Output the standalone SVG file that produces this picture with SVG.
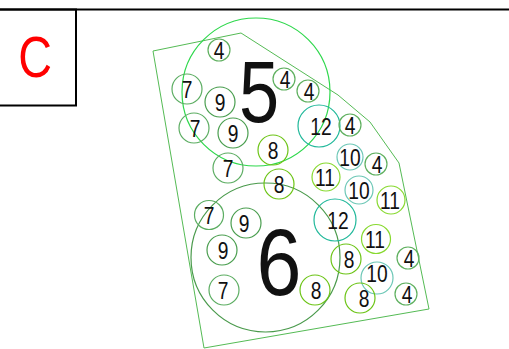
<svg xmlns="http://www.w3.org/2000/svg" width="509" height="349" viewBox="0 0 509 349">
<style>
text{font-family:"Liberation Sans",Arial,sans-serif;fill:#111;text-anchor:middle}
.s{font-size:24px}
.c{fill:none;stroke-width:1.2}
.c4{stroke:#5fb05f}.c7{stroke:#5cad62}.c9{stroke:#4a9e4f}.c8{stroke:#6cc416}
.c11{stroke:#88d930}.c10{stroke:#6cc7b6}.c12{stroke:#20b89a}
.b5{fill:none;stroke:#2ed84c;stroke-width:1.2}.b6{fill:none;stroke:#4a9a4c;stroke-width:1.2}
</style>
<rect x="0" y="0" width="509" height="349" fill="#fff"/>
<g id="frame">
<line x1="0" y1="9.5" x2="509" y2="9.5" stroke="#000" stroke-width="2"/>
<rect x="-2" y="9.5" width="78" height="96" fill="none" stroke="#000" stroke-width="2"/>
<text x="0" y="0" transform="translate(35,77) scale(0.82,1)" style="font-size:57px;fill:#ff0000">C</text>
</g>
<g id="boundary">
<polygon points="153,51 241,33 338,95 370,122 399,163 429,309 204,348" fill="none" stroke="#55bb55" stroke-width="1"/>
</g>
<g id="connectors"></g>
<g id="zone5"><circle class="b5" cx="256" cy="92" r="74"/><text transform="translate(259,122) scale(0.82,1)" style="font-size:88px">5</text></g>
<g id="zone6"><circle class="b6" cx="265.5" cy="257.5" r="74.5"/><text transform="translate(279,295) scale(0.86,1)" style="font-size:94px">6</text></g>
<g id="n1"><circle class="c c4" cx="219" cy="50" r="11"/><text class="s" transform="translate(219,58.5) scale(0.8,1)">4</text></g>
<g id="n2"><circle class="c c7" cx="187" cy="89" r="15"/><text class="s" transform="translate(187,97.5) scale(0.8,1)">7</text></g>
<g id="n3"><circle class="c c9" cx="220" cy="102" r="15"/><text class="s" transform="translate(220,110.5) scale(0.8,1)">9</text></g>
<g id="n4"><circle class="c c7" cx="194" cy="128" r="15"/><text class="s" transform="translate(195,136.5) scale(0.8,1)">7</text></g>
<g id="n5"><circle class="c c9" cx="233" cy="133" r="15"/><text class="s" transform="translate(233,141.5) scale(0.8,1)">9</text></g>
<g id="n6"><circle class="c c4" cx="284" cy="79" r="11"/><text class="s" transform="translate(285,87.5) scale(0.8,1)">4</text></g>
<g id="n7"><circle class="c c4" cx="308" cy="91" r="11"/><text class="s" transform="translate(309,99.5) scale(0.8,1)">4</text></g>
<g id="n8"><circle class="c c12" cx="319" cy="126" r="21"/><text class="s" transform="translate(321,134.5) scale(0.8,1)">12</text></g>
<g id="n9"><circle class="c c8" cx="273" cy="150" r="15"/><text class="s" transform="translate(273,158.5) scale(0.8,1)">8</text></g>
<g id="n10"><circle class="c c7" cx="228" cy="168" r="15"/><text class="s" transform="translate(228,176.5) scale(0.8,1)">7</text></g>
<g id="n11"><circle class="c c4" cx="350" cy="125" r="11"/><text class="s" transform="translate(350,133.5) scale(0.8,1)">4</text></g>
<g id="n12"><circle class="c c10" cx="350" cy="157" r="13"/><text class="s" transform="translate(350,165.5) scale(0.8,1)">10</text></g>
<g id="n13"><circle class="c c4" cx="376" cy="164" r="11"/><text class="s" transform="translate(377,172.5) scale(0.8,1)">4</text></g>
<g id="n14"><circle class="c c11" cx="326" cy="177" r="14"/><text class="s" transform="translate(325,185.5) scale(0.8,1)">11</text></g>
<g id="n15"><circle class="c c8" cx="279" cy="184" r="15"/><text class="s" transform="translate(279,192.5) scale(0.8,1)">8</text></g>
<g id="n16"><circle class="c c10" cx="359" cy="190" r="14"/><text class="s" transform="translate(359,198.5) scale(0.8,1)">10</text></g>
<g id="n17"><circle class="c c11" cx="391" cy="200" r="14"/><text class="s" transform="translate(390,208.5) scale(0.8,1)">11</text></g>
<g id="n18"><circle class="c c12" cx="335" cy="220" r="21"/><text class="s" transform="translate(338,228.5) scale(0.8,1)">12</text></g>
<g id="n19"><circle class="c c7" cx="209" cy="215" r="14.5"/><text class="s" transform="translate(209,223.5) scale(0.8,1)">7</text></g>
<g id="n20"><circle class="c c9" cx="246" cy="223" r="15"/><text class="s" transform="translate(244,231.5) scale(0.8,1)">9</text></g>
<g id="n21"><circle class="c c9" cx="222" cy="250" r="15"/><text class="s" transform="translate(223,258.5) scale(0.8,1)">9</text></g>
<g id="n22"><circle class="c c11" cx="376" cy="239" r="14.5"/><text class="s" transform="translate(375,247.5) scale(0.8,1)">11</text></g>
<g id="n23"><circle class="c c4" cx="408" cy="258" r="11"/><text class="s" transform="translate(409,266.5) scale(0.8,1)">4</text></g>
<g id="n24"><circle class="c c8" cx="346" cy="259" r="15"/><text class="s" transform="translate(349,267.5) scale(0.8,1)">8</text></g>
<g id="n25"><circle class="c c10" cx="377" cy="278" r="16"/><text class="s" transform="translate(377,282) scale(0.8,1)">10</text></g>
<g id="n26"><circle class="c c8" cx="315" cy="290" r="15"/><text class="s" transform="translate(316,298.5) scale(0.8,1)">8</text></g>
<g id="n27"><circle class="c c7" cx="224" cy="290" r="15"/><text class="s" transform="translate(223,298.5) scale(0.8,1)">7</text></g>
<g id="n28"><circle class="c c8" cx="360" cy="298" r="15"/><text class="s" transform="translate(364,306.5) scale(0.8,1)">8</text></g>
<g id="n29"><circle class="c c4" cx="406" cy="294" r="11"/><text class="s" transform="translate(407,302.5) scale(0.8,1)">4</text></g>
</svg>
